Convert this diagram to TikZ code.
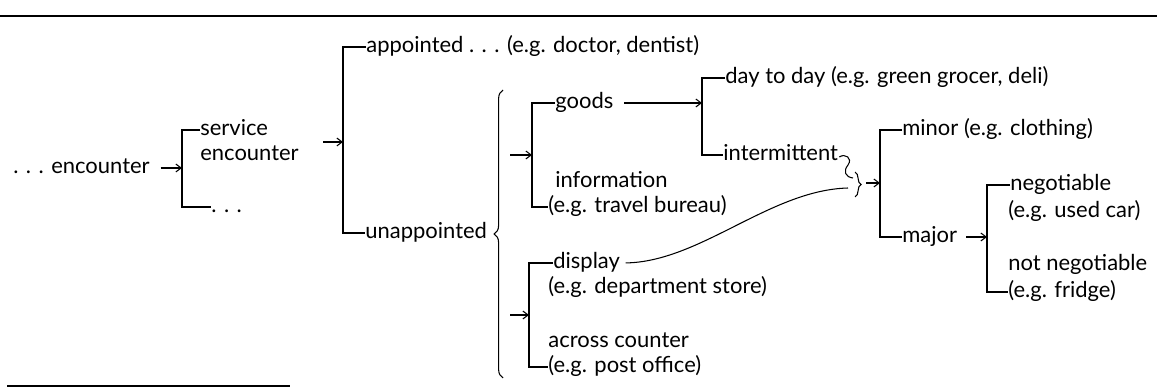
\documentclass[tikz,border=0pt]{standalone}
\usepackage{fontspec}
\setmainfont{Lato}
\usetikzlibrary{arrows.meta,decorations.pathreplacing}

\begin{document}
\begin{tikzpicture}[
  x=0.02cm, y=-0.02cm,
  lbl/.style={anchor=west, inner sep=0pt, text height=6.4pt, text depth=0pt,
              font=\fontsize{12.5}{15}\selectfont},
  tree/.style={line width=0.6pt},
  arr/.style={line width=0.6pt, -{Straight Barb[length=3pt,width=4.5pt]}},
  rule/.style={line width=1.4pt}
]
  \useasboundingbox (0,0) rectangle (1157,388);

  % rules above and below
  \coordinate (rt1) at (0,16);   \coordinate (rt2) at (1157,16);
  \coordinate (rb1) at (7,386);  \coordinate (rb2) at (290,386);
  \draw[rule] (rt1) -- (rt2);
  \draw[rule] (rb1) -- (rb2);

  % first level
  \node[lbl, anchor=east] (enc) at (150,168) {. . . encounter};
  \node[lbl] (svc)  at (200,130) {service};
  \node[lbl] (svc2) at (200,155) {encounter};
  \node[lbl] (oth)  at (211,207) {. . .};
  \coordinate (b1) at (182,168);
  \draw[tree] (svc.west) -| (b1) |- (oth.west);
  \draw[arr, shorten <=6pt] (enc.east) -- (b1);

  % appointed / unappointed
  \node[lbl] (appt) at (366,47)  {appointed . . . (e.g. doctor, dentist)};
  \node[lbl] (unap) at (365,233) {unappointed};
  \coordinate (b2) at (343,142);
  \coordinate (a2) at (323,142);
  \draw[tree] (appt.west) -| (b2) |- (unap.west);
  \draw[arr] (a2) -- (b2);

  % brace after unappointed
  \coordinate (br1) at (503,378);
  \coordinate (br2) at (503,90);
  \draw[tree, decorate, decoration={brace, amplitude=5pt}] (br1) -- (br2);

  % goods / information
  \node[lbl] (goods)  at (555,103) {goods};
  \node[lbl] (info)   at (555,182) {information};
  \node[lbl] (infoeg) at (548,207) {(e.g. travel bureau)};
  \coordinate (b3) at (532,155);
  \coordinate (a3) at (510,155);
  \draw[tree] (goods.west) -| (b3) |- (infoeg.west);
  \draw[arr] (a3) -- (b3);

  % display / across counter
  \node[lbl] (disp)   at (553,263) {display};
  \node[lbl] (dispeg) at (548,288) {(e.g. department store)};
  \node[lbl] (acr)    at (548,342) {across counter};
  \node[lbl] (acreg)  at (548,367) {(e.g. post office)};
  \coordinate (b7) at (529,315);
  \coordinate (a7) at (510,315);
  \draw[tree] (disp.west) -| (b7) |- (acreg.west);
  \draw[arr] (a7) -- (b7);

  % day to day / intermittent
  \node[lbl] (day)   at (725,78)  {day to day (e.g. green grocer, deli)};
  \node[lbl] (inter) at (723,155) {intermittent};
  \coordinate (b4) at (702,116);
  \draw[tree] (day.west) -| (b4) |- (inter.west);
  \draw[arr, shorten <=6pt] (goods.east) -- (goods.east -| b4);

  % joining brace
  \coordinate (cv) at (848,188);
  \coordinate (jb1) at (855,172);
  \coordinate (jb2) at (855,197);
  \draw[tree] (inter.east) ++(1,2) .. controls (845,153) and (853,158) .. (848,165)
    .. controls (843,171) and (845,177) .. (853,178);
  \draw[tree, decorate, decoration={brace, amplitude=3.5pt}] (jb1) -- (jb2);
  \draw[tree, shorten <=3pt] (disp.east) .. controls (700,262) and (770,190) .. (cv);

  % minor / major
  \node[lbl] (minor) at (902,130) {minor (e.g. clothing)};
  \node[lbl] (major) at (902,237) {major};
  \coordinate (b5) at (880,183);
  \coordinate (a5) at (866,183);
  \draw[tree] (minor.west) -| (b5) |- (major.west);
  \draw[arr] (a5) -- (b5);

  % negotiable / not negotiable
  \node[lbl] (neg)    at (1010,185) {negotiable};
  \node[lbl] (negeg)  at (1008,212) {(e.g. used car)};
  \node[lbl] (nneg)   at (1008,265) {not negotiable};
  \node[lbl] (nnegeg) at (1008,292) {(e.g. fridge)};
  \coordinate (b6) at (987,238);
  \draw[tree] (neg.west) -| (b6) |- (nnegeg.west);
  \draw[arr, shorten <=5pt] (major.east) -- (major.east -| b6);
\end{tikzpicture}
\end{document}
